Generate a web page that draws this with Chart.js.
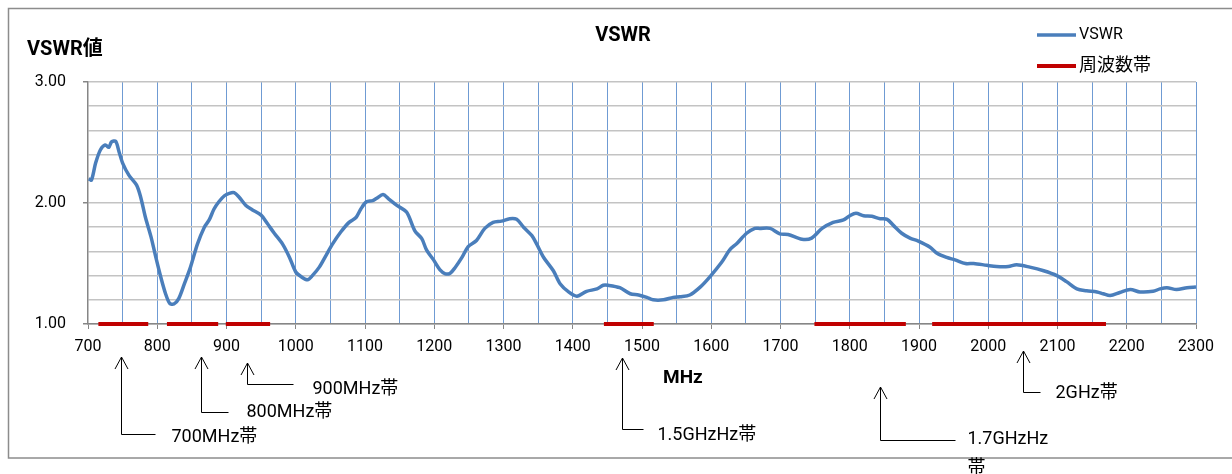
<!DOCTYPE html>
<html>
<head>
<meta charset="utf-8">
<title>VSWR</title>
<script src="https://cdn.jsdelivr.net/npm/chart.js"></script>
<style>
    body { margin: 0; background: #fff; }
    #wrap { position: relative; width: 1232px; height: 474px; }
</style>
</head>
<body>
<div id="wrap"><canvas id="vswrChart"></canvas></div>
<script>
    // measured curve (MHz -> VSWR)
    var freqMHz = [701, 705, 711, 718, 725, 730, 734, 740, 745, 750, 759, 770, 776, 783, 791, 798, 805, 812, 818, 824,
        831, 839, 848, 858, 868, 875, 882, 889, 897, 904, 911, 918, 928, 937, 950, 959, 969, 981, 991, 1000,
        1008, 1017, 1024, 1034, 1044, 1053, 1065, 1077, 1087, 1094, 1102, 1111, 1117, 1126, 1134, 1146, 1160, 1172, 1182, 1189,
        1199, 1208, 1216, 1223, 1230, 1240, 1249, 1261, 1273, 1285, 1297, 1309, 1319, 1329, 1341, 1348, 1358, 1372, 1382, 1394,
        1406, 1420, 1435, 1444, 1451, 1468, 1483, 1495, 1507, 1516, 1531, 1545, 1555, 1569, 1584, 1598, 1615, 1627, 1637, 1651,
        1663, 1670, 1685, 1699, 1711, 1731, 1745, 1760, 1776, 1791, 1800, 1809, 1820, 1832, 1844, 1854, 1863, 1875, 1887, 1899,
        1916, 1926, 1940, 1952, 1967, 1979, 1998, 2012, 2029, 2041, 2060, 2080, 2099, 2113, 2128, 2142, 2157, 2166, 2176, 2190,
        2205, 2219, 2238, 2248, 2258, 2272, 2287, 2300];
    var vswr = [2.20, 2.19, 2.33, 2.44, 2.48, 2.46, 2.505, 2.51, 2.42, 2.33, 2.23, 2.15, 2.05, 1.88, 1.72, 1.55, 1.39, 1.25, 1.17, 1.165,
        1.21, 1.33, 1.47, 1.66, 1.80, 1.86, 1.95, 2.01, 2.06, 2.08, 2.085, 2.05, 1.98, 1.945, 1.90, 1.83, 1.75, 1.66, 1.55, 1.43,
        1.39, 1.365, 1.40, 1.47, 1.57, 1.66, 1.76, 1.84, 1.88, 1.95, 2.01, 2.02, 2.04, 2.07, 2.035, 1.98, 1.925, 1.77, 1.705, 1.61,
        1.53, 1.45, 1.415, 1.42, 1.465, 1.55, 1.64, 1.69, 1.79, 1.84, 1.85, 1.87, 1.865, 1.80, 1.73, 1.66, 1.55, 1.44, 1.33, 1.265,
        1.23, 1.27, 1.29, 1.32, 1.32, 1.30, 1.25, 1.24, 1.22, 1.20, 1.20, 1.22, 1.225, 1.24, 1.305, 1.39, 1.51, 1.615, 1.665, 1.75,
        1.79, 1.79, 1.79, 1.745, 1.74, 1.70, 1.71, 1.79, 1.84, 1.86, 1.895, 1.915, 1.895, 1.89, 1.87, 1.865, 1.815, 1.75, 1.71, 1.685,
        1.635, 1.585, 1.55, 1.53, 1.50, 1.50, 1.485, 1.475, 1.475, 1.49, 1.47, 1.44, 1.40, 1.35, 1.29, 1.275, 1.265, 1.25, 1.235, 1.26,
        1.285, 1.265, 1.27, 1.29, 1.30, 1.285, 1.30, 1.305];

    // frequency bands (red bars on the 1.00 line)
    var bandStartMHz = [715, 814, 899, 1445, 1749, 1919];
    var bandEndMHz = [787, 888, 963, 1517, 1881, 2170];
    var bandLevel = 1.00;

    // band callouts under the axis
    var bandNames = ['700MHz帯', '800MHz帯', '900MHz帯', '1.5GHzHz帯', '1.7GHzHz\n帯', '2GHz帯'];
    var bandArrowMHz = [748, 863, 930, 1471, 1844, 2050];

    var FONT = 'Roboto, "Noto Sans CJK JP", sans-serif';
    var BLUE = '#4a7ebb';
    var RED = '#c00000';

    function isWhole(v) { return Math.abs(v - Math.round(v)) < 1e-6; }

    var curvePts = freqMHz.map(function (f, i) { return { x: f, y: vswr[i] }; });
    var bandPts = [];
    bandStartMHz.forEach(function (s, i) {
        bandPts.push({ x: s, y: bandLevel }, { x: bandEndMHz[i], y: bandLevel }, { x: bandEndMHz[i] + 1, y: null });
    });

    // pixel layout of the callouts (tip, elbow, arm length, text gap, text y)
    var noteLayout = [
        { tip: 357, elbow: 434, arm: 34, gap: 16, ty: 437 },
        { tip: 357, elbow: 412, arm: 27, gap: 18, ty: 412 },
        { tip: 363, elbow: 384, arm: 46, gap: 19, ty: 389 },
        { tip: 358, elbow: 429, arm: 21, gap: 14, ty: 435 },
        { tip: 387, elbow: 440, arm: 75, gap: 12, ty: 439 },
        { tip: 351, elbow: 392, arm: 17, gap: 15, ty: 393 }
    ];

    function text(ctx, s, x, y, size, bold, align) {
        ctx.font = (bold ? 'bold ' : '') + size + 'px ' + FONT;
        ctx.textAlign = align || 'left';
        ctx.textBaseline = 'middle';
        ctx.fillStyle = '#000';
        ctx.fillText(s, x, y);
    }

    var decor = {
        id: 'decor',
        beforeDraw: function (chart) {
            var ctx = chart.ctx;
            ctx.save();
            ctx.strokeStyle = '#8c8c8c';
            ctx.lineWidth = 1.5;
            ctx.strokeRect(8.5, 8.5, 1240, 449.5);
            ctx.restore();
        },
        afterDraw: function (chart) {
            var ctx = chart.ctx;
            var xs = chart.scales.x;
            ctx.save();
            text(ctx, 'VSWR', 623, 36, 20, true, 'center');
            text(ctx, 'VSWR値', 27, 50, 20, true);
            text(ctx, 'MHz', 663, 378, 19, true);

            // legend
            var ds = chart.data.datasets;
            [35, 66].forEach(function (y, i) {
                ctx.strokeStyle = ds[i].borderColor;
                ctx.lineWidth = ds[i].borderWidth;
                ctx.beginPath();
                ctx.moveTo(1037, y);
                ctx.lineTo(1076, y);
                ctx.stroke();
                text(ctx, ds[i].label, 1079, y, i === 0 ? 16 : 18, false);
            });

            // callouts
            ctx.strokeStyle = '#000';
            ctx.lineWidth = 1;
            bandNames.forEach(function (name, i) {
                var L = noteLayout[i];
                var x = Math.round(xs.getPixelForValue(bandArrowMHz[i])) + 0.5;
                ctx.beginPath();
                ctx.moveTo(x, L.tip);
                ctx.lineTo(x, L.elbow + 0.5);
                ctx.lineTo(x + L.arm, L.elbow + 0.5);
                ctx.moveTo(x - 6.5, L.tip + 12);
                ctx.lineTo(x, L.tip);
                ctx.lineTo(x + 6.5, L.tip + 12);
                ctx.stroke();
                name.split('\n').forEach(function (line, k) {
                    text(ctx, line, x + L.arm + L.gap, L.ty + k * 29, 18, false);
                });
            });
            ctx.restore();
        }
    };

    var ctx = document.getElementById('vswrChart').getContext('2d');
    var vswrChart = new Chart(ctx, {
        type: 'line',
        data: {
            datasets: [{
                label: 'VSWR',
                data: curvePts,
                borderColor: BLUE,
                borderWidth: 3.5,
                pointRadius: 0,
                tension: 0.3,
                order: 2
            }, {
                label: '周波数帯',
                data: bandPts,
                borderColor: RED,
                borderWidth: 4,
                pointRadius: 0,
                spanGaps: false,
                clip: false,
                order: 1
            }]
        },
        options: {
            responsive: true,
            maintainAspectRatio: false,
            animation: false,
            devicePixelRatio: 1,
            layout: { padding: { left: 0, top: 82, right: 36, bottom: 110 } },
            plugins: {
                legend: { display: false },
                title: { display: false },
                tooltip: { enabled: false }
            },
            scales: {
                x: {
                    type: 'linear',
                    min: 700,
                    max: 2300,
                    afterFit: function (s) { s.height = 40; },
                    border: { color: '#868686', width: 1.5 },
                    grid: {
                        color: function (c) { return c.tick && c.tick.value === 700 ? 'rgba(0,0,0,0)' : '#6f9bd3'; },
                        lineWidth: 1,
                        tickLength: 5,
                        tickColor: function (c) { return c.tick && c.tick.value % 100 === 0 ? '#868686' : 'rgba(0,0,0,0)'; }
                    },
                    ticks: {
                        stepSize: 50,
                        autoSkip: false,
                        maxRotation: 0,
                        padding: 8,
                        color: '#000',
                        font: { family: FONT, size: 16 },
                        callback: function (v) { return v % 100 === 0 ? String(v) : ''; }
                    }
                },
                y: {
                    min: 1,
                    max: 3,
                    afterFit: function (s) { s.width = 88; },
                    border: { color: '#868686', width: 1.5 },
                    grid: {
                        color: '#c3c3c3',
                        lineWidth: 1.5,
                        tickLength: 5,
                        tickColor: function (c) { return c.tick && isWhole(c.tick.value) ? '#868686' : 'rgba(0,0,0,0)'; }
                    },
                    ticks: {
                        stepSize: 0.2,
                        autoSkip: false,
                        padding: 17,
                        color: '#000',
                        font: { family: FONT, size: 16 },
                        callback: function (v) { return isWhole(v) ? v.toFixed(2) : ''; }
                    }
                }
            }
        },
        plugins: [decor]
    });
</script>
</body>
</html>
